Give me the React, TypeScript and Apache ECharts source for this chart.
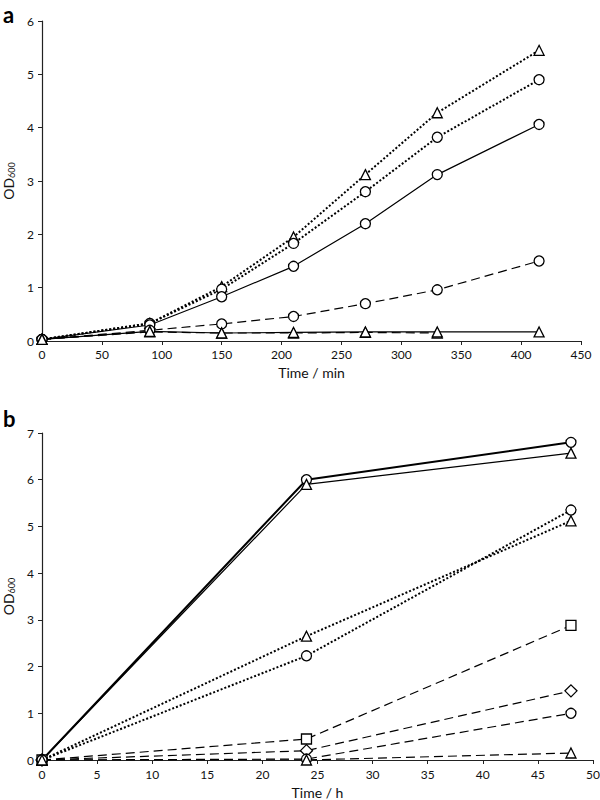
import React, { useEffect, useRef } from "react";
import * as echarts from "echarts";

// Panel a: time in minutes
const timeA = [0, 90, 150, 210, 270, 330, 415];
const aTriDotted = [0.03, 0.33, 1.02, 1.95, 3.12, 4.28, 5.45];
const aCircDotted = [0.03, 0.33, 0.97, 1.83, 2.8, 3.82, 4.9];
const aCircSolid = [0.03, 0.3, 0.83, 1.4, 2.2, 3.12, 4.06];
const aCircDashed = [0.03, 0.2, 0.32, 0.46, 0.7, 0.96, 1.5];
const aTriSolid = [0.03, 0.18, 0.15, 0.16, 0.17, 0.17, 0.17];
const aTriDashed = [0.03, 0.17, 0.15, 0.15, 0.16, 0.15, null];

// Panel b: time in hours
const timeB = [0, 24, 48];
const bCircSolid = [0, 6.0, 6.8];
const bTriSolid = [0, 5.9, 6.57];
const bCircDotted = [0, 2.23, 5.35];
const bTriDotted = [0, 2.65, 5.12];
const bSqDashed = [0, 0.45, 2.88];
const bDiaDashed = [0, 0.2, 1.48];
const bCircDashed = [0, 0.02, 1.0];
const bTriDashed = [0, 0.0, 0.15];

const FONT = "Lato, 'Open Sans', sans-serif";

function pairs(xs: number[], ys: (number | null)[]) {
  return xs.map((x, i) => [x, ys[i]]).filter((p) => p[1] !== null);
}

function mk(
  name: string,
  xs: number[],
  ys: (number | null)[],
  symbol: string,
  lineType: any,
  width: number,
  gi: number,
  size = 10
) {
  return {
    name,
    type: "line",
    xAxisIndex: gi,
    yAxisIndex: gi,
    data: pairs(xs, ys),
    symbol,
    symbolSize: size,
    showAllSymbol: true,
    lineStyle: { color: "#000", width, type: lineType },
    itemStyle: { color: "#fff", borderColor: "#000", borderWidth: 1.3 },
    z: 3,
  };
}

const axisCommon = {
  axisLine: { show: true, onZero: false, lineStyle: { color: "#222", width: 1.2 } },
  axisTick: { show: true, inside: false, length: 4, lineStyle: { color: "#222" } },
  splitLine: { show: false },
  axisLabel: { color: "#111", fontFamily: FONT, fontSize: 12 },
};

const yName = {
  name: "{a|OD}{b|600}",
  nameLocation: "middle",
  nameRotate: 90,
  nameTextStyle: {
    rich: {
      a: { fontFamily: FONT, fontSize: 14, color: "#111" },
      b: { fontFamily: FONT, fontSize: 9, color: "#111", padding: [6, 0, 0, 0] },
    },
  },
};

export default function App() {
  const ref = useRef<HTMLDivElement>(null);
  useEffect(() => {
    if (!ref.current) return;
    const chart = echarts.init(ref.current, null, { renderer: "svg" });
    const dash = [9, 5];
    chart.setOption({
      animation: false,
      backgroundColor: "#fff",
      graphic: [
        { type: "text", left: 3, top: 3, style: { text: "a", font: `bold 22px ${FONT}`, fill: "#000" } },
        { type: "text", left: 3, top: 407, style: { text: "b", font: `bold 22px ${FONT}`, fill: "#000" } },
      ],
      grid: [
        { left: 42, top: 21, width: 539, height: 320, outerBoundsMode: "none", containLabel: false },
        { left: 42, top: 433, width: 551, height: 327, outerBoundsMode: "none", containLabel: false },
      ],
      xAxis: [
        {
          ...axisCommon,
          gridIndex: 0,
          type: "value",
          min: 0,
          max: 450,
          interval: 50,
          name: "Time / min",
          nameLocation: "middle",
          nameGap: 24,
          nameTextStyle: { fontFamily: FONT, fontSize: 14, color: "#111" },
          axisLabel: { ...axisCommon.axisLabel, margin: 7 },
        },
        {
          ...axisCommon,
          gridIndex: 1,
          type: "value",
          min: 0,
          max: 50,
          interval: 5,
          name: "Time / h",
          nameLocation: "middle",
          nameGap: 25,
          nameTextStyle: { fontFamily: FONT, fontSize: 14, color: "#111" },
          axisLabel: { ...axisCommon.axisLabel, margin: 8 },
        },
      ],
      yAxis: [
        { ...axisCommon, ...yName, gridIndex: 0, type: "value", min: 0, max: 6, interval: 1, nameGap: 24 },
        { ...axisCommon, ...yName, gridIndex: 1, type: "value", min: 0, max: 7, interval: 1, nameGap: 24 },
      ],
      series: [
        mk("aTriDotted", timeA, aTriDotted, "triangle", "dotted", 2, 0),
        mk("aCircDotted", timeA, aCircDotted, "circle", "dotted", 2, 0),
        mk("aCircSolid", timeA, aCircSolid, "circle", "solid", 1.2, 0),
        mk("aCircDashed", timeA, aCircDashed, "circle", dash, 1.2, 0),
        mk("aTriDashed", timeA, aTriDashed, "triangle", dash, 1.2, 0),
        mk("aTriSolid", timeA, aTriSolid, "triangle", "solid", 1.2, 0),
        mk("bCircSolid", timeB, bCircSolid, "circle", "solid", 2, 1),
        mk("bTriSolid", timeB, bTriSolid, "triangle", "solid", 1.2, 1),
        mk("bCircDotted", timeB, bCircDotted, "circle", "dotted", 2, 1),
        mk("bTriDotted", timeB, bTriDotted, "triangle", "dotted", 2, 1),
        mk("bSqDashed", timeB, bSqDashed, "rect", dash, 1.2, 1, 10),
        mk("bDiaDashed", timeB, bDiaDashed, "diamond", dash, 1.2, 1, 12),
        mk("bCircDashed", timeB, bCircDashed, "circle", dash, 1.2, 1),
        mk("bTriDashed", timeB, bTriDashed, "triangle", dash, 1.2, 1),
      ],
    });
    return () => chart.dispose();
  }, []);
  return (
    <div
      ref={ref}
      style={{ position: "absolute", left: 0, top: 0, width: 600, height: 800, background: "#fff" }}
    />
  );
}
